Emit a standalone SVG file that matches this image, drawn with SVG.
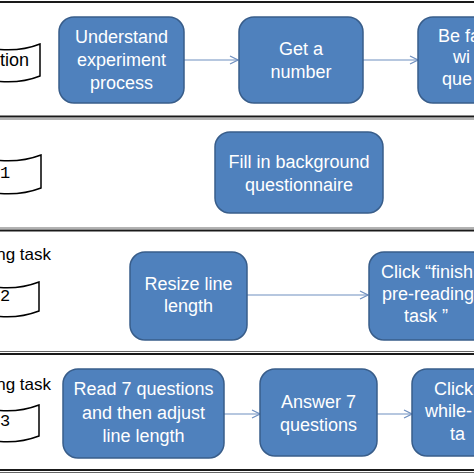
<svg xmlns="http://www.w3.org/2000/svg" width="474" height="474" viewBox="0 0 474 474">
<defs>
<style>
.frame{stroke:#1a1a1a;stroke-width:2;fill:none}
.frame2{stroke:#666;stroke-width:1;fill:none}
.box{fill:#4F81BD;stroke:#385D8A;stroke-width:1.5}
.bt{font-family:"Liberation Sans",Arial,sans-serif;font-size:18px;fill:#fff;text-anchor:middle}
.bts{font-family:"Liberation Sans",Arial,sans-serif;font-size:18px;fill:#fff}
.tag{fill:#fff;stroke:#000;stroke-width:1.5}
.lt{font-family:"Liberation Sans",Arial,sans-serif;font-size:17px;fill:#000}
.mono{font-family:"Liberation Mono","Courier New",monospace;font-size:17px;fill:#000}
.conn{stroke:#6F8FBF;stroke-width:1.2;fill:none;marker-end:url(#ah)}
</style>
<marker id="ah" markerWidth="10" markerHeight="10" refX="9" refY="5" orient="auto" markerUnits="userSpaceOnUse">
<path d="M1,1 L9,5 L1,9" fill="none" stroke="#6F8FBF" stroke-width="1.2"/>
</marker>
</defs>
<rect width="474" height="474" fill="#fff"/>
<g id="frames">
<line class="frame" x1="0" y1="2" x2="474" y2="2"/>
<line class="frame" x1="0" y1="116.5" x2="474" y2="116.5"/>
<line class="frame2" x1="0" y1="119" x2="474" y2="119"/>
<line class="frame2" x1="0" y1="228" x2="474" y2="228"/>
<line class="frame" x1="0" y1="230.5" x2="474" y2="230.5"/>
<line class="frame2" x1="0" y1="351.5" x2="474" y2="351.5"/>
<line class="frame" x1="0" y1="354" x2="474" y2="354"/>
<line class="frame" x1="0" y1="470" x2="474" y2="470"/>
<line class="frame2" x1="0" y1="472.5" x2="474" y2="472.5"/>
</g>
<g id="tag1">
<path class="tag" d="M-5,49 Q20,52 40,44 L40,76 Q20,84 -5,81 Z"/>
<text class="lt" style="font-size:18px" x="29" y="66" text-anchor="end">tion</text>
</g>
<g id="tag2">
<path class="tag" d="M-5,160 Q20,163 41,155 L41,188 Q20,196 -5,193 Z"/>
<text class="mono" x="0" y="178">1</text>
</g>
<g id="tag3">
<text class="lt" x="51" y="260" text-anchor="end">ng task</text>
<path class="tag" d="M-5,287 Q18,290 39,282 L39,311 Q18,319 -5,316 Z"/>
<text class="mono" x="0" y="301">2</text>
</g>
<g id="tag4">
<text class="lt" x="51" y="390" text-anchor="end">ng task</text>
<path class="tag" d="M-5,410 Q18,413 39,405 L39,436 Q18,444 -5,441 Z"/>
<text class="mono" x="0" y="426">3</text>
</g>
<g id="connectors">
<line class="conn" x1="184" y1="60" x2="238" y2="60"/>
<line class="conn" x1="363" y1="60" x2="418" y2="60"/>
<line class="conn" x1="247" y1="295" x2="368" y2="295"/>
<line class="conn" x1="224" y1="414" x2="260" y2="414"/>
<line class="conn" x1="377" y1="414" x2="412" y2="414"/>
</g>
<g id="n1">
<rect class="box" x="59" y="17" width="125" height="86" rx="15"/>
<text class="bt" x="121.5" y="43">Understand</text>
<text class="bt" x="121.5" y="66">experiment</text>
<text class="bt" x="121.5" y="89">process</text>
</g>
<g id="n2">
<rect class="box" x="239" y="17" width="124" height="86" rx="15"/>
<text class="bt" x="301" y="55">Get a</text>
<text class="bt" x="301" y="78">number</text>
</g>
<g id="n3">
<rect class="box" x="418" y="17" width="125" height="86" rx="15"/>
<text class="bts" x="438" y="42">Be fa</text>
<text class="bts" x="453" y="63">wi</text>
<text class="bts" x="442" y="85">que</text>
</g>
<g id="n4">
<rect class="box" x="215" y="132" width="168" height="81" rx="15"/>
<text class="bt" x="299" y="168">Fill in background</text>
<text class="bt" x="299" y="191">questionnaire</text>
</g>
<g id="n5">
<rect class="box" x="130" y="252" width="117" height="88" rx="15"/>
<text class="bt" x="188.5" y="290">Resize line</text>
<text class="bt" x="188.5" y="312">length</text>
</g>
<g id="n6">
<rect class="box" x="369" y="252" width="118" height="88" rx="15"/>
<text class="bts" x="381" y="278">Click “finish</text>
<text class="bts" x="382" y="300">pre-reading</text>
<text class="bts" x="404" y="322">task ”</text>
</g>
<g id="n7">
<rect class="box" x="63" y="369" width="161" height="89" rx="15"/>
<text class="bt" x="143.5" y="395">Read 7 questions</text>
<text class="bt" x="143.5" y="419">and then adjust</text>
<text class="bt" x="143.5" y="442">line length</text>
</g>
<g id="n8">
<rect class="box" x="260" y="369" width="117" height="87" rx="15"/>
<text class="bt" x="318.5" y="408">Answer 7</text>
<text class="bt" x="318.5" y="431">questions</text>
</g>
<g id="n9">
<rect class="box" x="412" y="369" width="118" height="87" rx="15"/>
<text class="bts" x="434" y="395">Click</text>
<text class="bts" x="425" y="417">while-</text>
<text class="bts" x="450" y="440">ta</text>
</g>
</svg>
